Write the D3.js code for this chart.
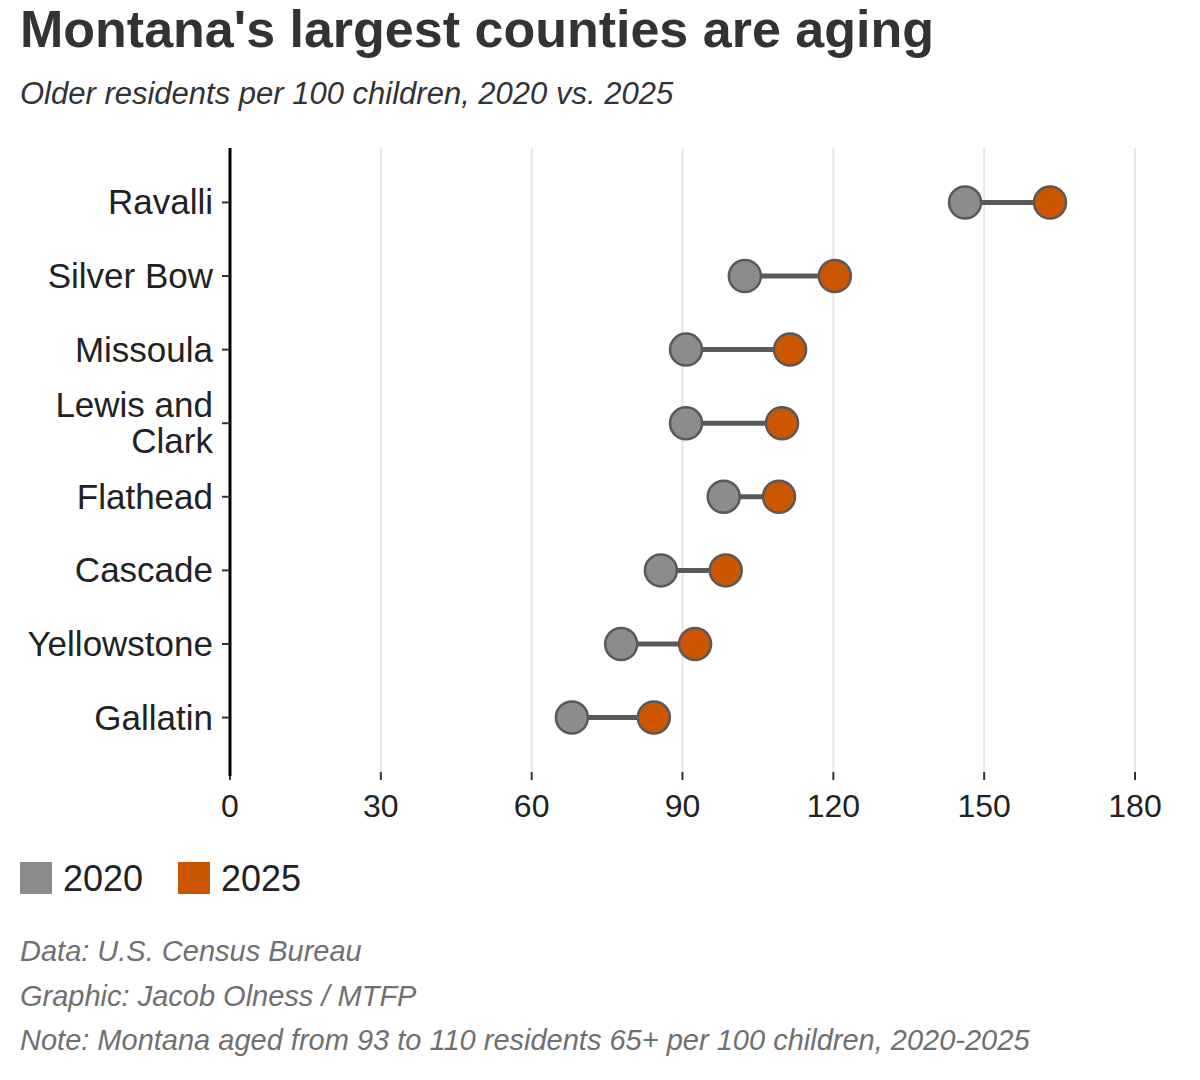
<!DOCTYPE html>
<html lang="en">
<head>
<meta charset="UTF-8">
<script src="https://cdn.jsdelivr.net/npm/d3@7"></script>
<style>body{margin:0;background:#fff;font-family:Arial,"Liberation Sans",sans-serif;}</style>
</head>
<body>
<script>
    // data
    let counties = ["Ravalli", "Silver Bow", "Missoula", "Lewis and Clark", "Flathead", "Cascade", "Yellowstone", "Gallatin"]
    let values2020 = [146.2, 102.4, 90.7, 90.7, 98.2, 85.7, 77.8, 68.0]
    let values2025 = [163.1, 120.3, 111.4, 109.8, 109.2, 98.6, 92.5, 84.3]
    let xTicks = [0, 30, 60, 90, 120, 150, 180]

    const svg = d3.select("body").append("svg").attr("width", 1200).attr("height", 1080)
    const x = d3.scaleLinear().domain([0, 180]).range([230, 1135])
    const y = d3.scalePoint().domain(counties).range([148, 772]).padding(0.74)

    svg.append("text").attr("x", 20).attr("y", 47).attr("font-size", 52).attr("font-weight", "bold")
        .attr("fill", "#333").text("Montana's largest counties are aging")
    svg.append("text").attr("x", 20).attr("y", 104).attr("font-size", 31).attr("font-style", "italic")
        .attr("fill", "#333").text("Older residents per 100 children, 2020 vs. 2025")

    // grid
    svg.selectAll(".grid").data(xTicks.slice(1)).enter().append("line")
        .attr("x1", d => x(d)).attr("x2", d => x(d)).attr("y1", 148).attr("y2", 772)
        .attr("stroke", "#e6e6e6").attr("stroke-width", 2)

    // x axis labels
    svg.selectAll(".xt").data(xTicks).enter().append("line")
        .attr("x1", d => x(d)).attr("x2", d => x(d)).attr("y1", 772).attr("y2", 780)
        .attr("stroke", "#333").attr("stroke-width", 2)
    svg.selectAll(".xl").data(xTicks).enter().append("text")
        .attr("x", d => x(d)).attr("y", 817).attr("text-anchor", "middle")
        .attr("font-size", 32).attr("fill", "#222").text(d => d)

    // y axis
    svg.append("line").attr("x1", 230).attr("x2", 230).attr("y1", 148).attr("y2", 776)
        .attr("stroke", "#000").attr("stroke-width", 3)
    svg.selectAll(".yt").data(counties).enter().append("line")
        .attr("x1", 222).attr("x2", 230).attr("y1", d => y(d)).attr("y2", d => y(d))
        .attr("stroke", "#333").attr("stroke-width", 2)
    counties.forEach(c => {
        let t = svg.append("text").attr("x", 213).attr("text-anchor", "end")
            .attr("font-size", 35).attr("fill", "#222")
        if (c === "Lewis and Clark") {
            t.append("tspan").attr("x", 213).attr("y", y(c) - 6).text("Lewis and")
            t.append("tspan").attr("x", 213).attr("y", y(c) + 30).text("Clark")
        } else {
            t.attr("y", y(c) + 12).text(c)
        }
    })

    // dumbbells
    counties.forEach((c, i) => {
        svg.append("line").attr("x1", x(values2020[i])).attr("x2", x(values2025[i]))
            .attr("y1", y(c)).attr("y2", y(c)).attr("stroke", "#595959").attr("stroke-width", 5)
        svg.append("circle").attr("cx", x(values2020[i])).attr("cy", y(c)).attr("r", 16)
            .attr("fill", "#8c8c8c").attr("stroke", "#595959").attr("stroke-width", 2.5)
        svg.append("circle").attr("cx", x(values2025[i])).attr("cy", y(c)).attr("r", 16)
            .attr("fill", "#cc5500").attr("stroke", "#595959").attr("stroke-width", 2.5)
    })

    // legend
    let legend = [["2020", "#8c8c8c", 20], ["2025", "#cc5500", 178]]
    legend.forEach(l => {
        svg.append("rect").attr("x", l[2]).attr("y", 862).attr("width", 32).attr("height", 32).attr("fill", l[1])
        svg.append("text").attr("x", l[2] + 43).attr("y", 891).attr("font-size", 36).attr("fill", "#222").text(l[0])
    })

    let notes = ["Data: U.S. Census Bureau", "Graphic: Jacob Olness / MTFP",
        "Note: Montana aged from 93 to 110 residents 65+ per 100 children, 2020-2025"]
    notes.forEach((n, i) => {
        svg.append("text").attr("x", 20).attr("y", 961 + i * 44.5).attr("font-size", 29)
            .attr("font-style", "italic").attr("fill", "#707070").text(n)
    })
</script>
</body>
</html>
